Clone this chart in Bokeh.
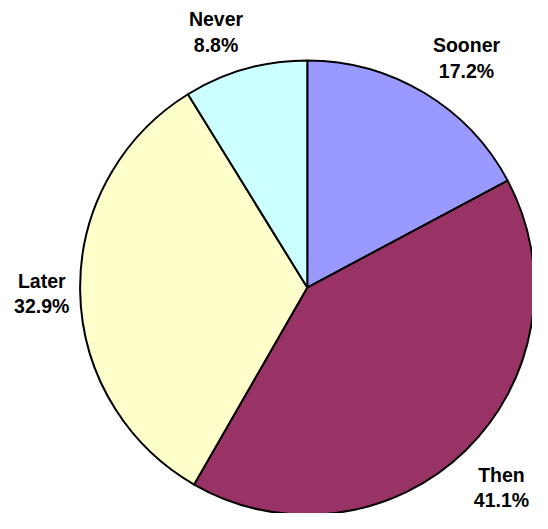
import numpy as np
from bokeh.plotting import figure
from bokeh.models import ColumnDataSource, Range1d
from bokeh.core.properties import value
from bokeh.embed import file_html
from bokeh.resources import INLINE

# ---- data ----
categories = ["Sooner", "Then", "Later", "Never"]
shares = [17.2, 41.1, 32.9, 8.8]
colors = ["#9999FF", "#993366", "#FFFFCC", "#CCFFFF"]

# ---- layout (reference-image pixels, scaled to the figure) ----
W, H = 532, 513
REF_W, REF_H = 548, 529
SX, SY = W / REF_W, H / REF_H
CX, CY, R = 316, 296, 234
LABEL_POS = [(480, 46), (516, 489), (42.5, 289), (222, 19)]
LINE_GAP = 26.5


def dx(px):
    return px * SX


def dy(py):
    return H - py * SY


vals = np.array(shares, dtype=float)
frac = vals / vals.sum()
cum = np.concatenate([[0.0], np.cumsum(frac)])
start = np.pi / 2 - 2 * np.pi * cum[1:]
end = np.pi / 2 - 2 * np.pi * cum[:-1]

src = ColumnDataSource(dict(
    x=[dx(CX)] * len(categories),
    y=[dy(CY)] * len(categories),
    start=start.tolist(),
    end=end.tolist(),
    color=colors,
))

p = figure(width=W, height=H, x_range=Range1d(0, W), y_range=Range1d(0, H),
           output_backend="svg", toolbar_location=None,
           x_axis_location=None, y_axis_location=None, min_border=0)
p.outline_line_color = None
p.xgrid.visible = False
p.ygrid.visible = False
p.background_fill_color = "white"

p.wedge(x="x", y="y", radius=R * SX, start_angle="start", end_angle="end",
        fill_color="color", line_color="black", line_width=2, source=src)

names = categories
pcts = [f"{v:.1f}%" for v in shares]
lx = [dx(x) for x, _ in LABEL_POS]
ly1 = [dy(y) for _, y in LABEL_POS]
ly2 = [dy(y + LINE_GAP) for _, y in LABEL_POS]

lab = ColumnDataSource(dict(x=lx, y1=ly1, y2=ly2, n=names, pc=pcts))
for ycol, tcol in (("y1", "n"), ("y2", "pc")):
    p.text(x="x", y=ycol, text=tcol, source=lab,
           text_font=value("Liberation Sans"), text_font_style="bold",
           text_font_size="19.5px", text_align="center", text_baseline="middle",
           text_color="black")

open("out.html", "w").write(file_html(p, INLINE))
